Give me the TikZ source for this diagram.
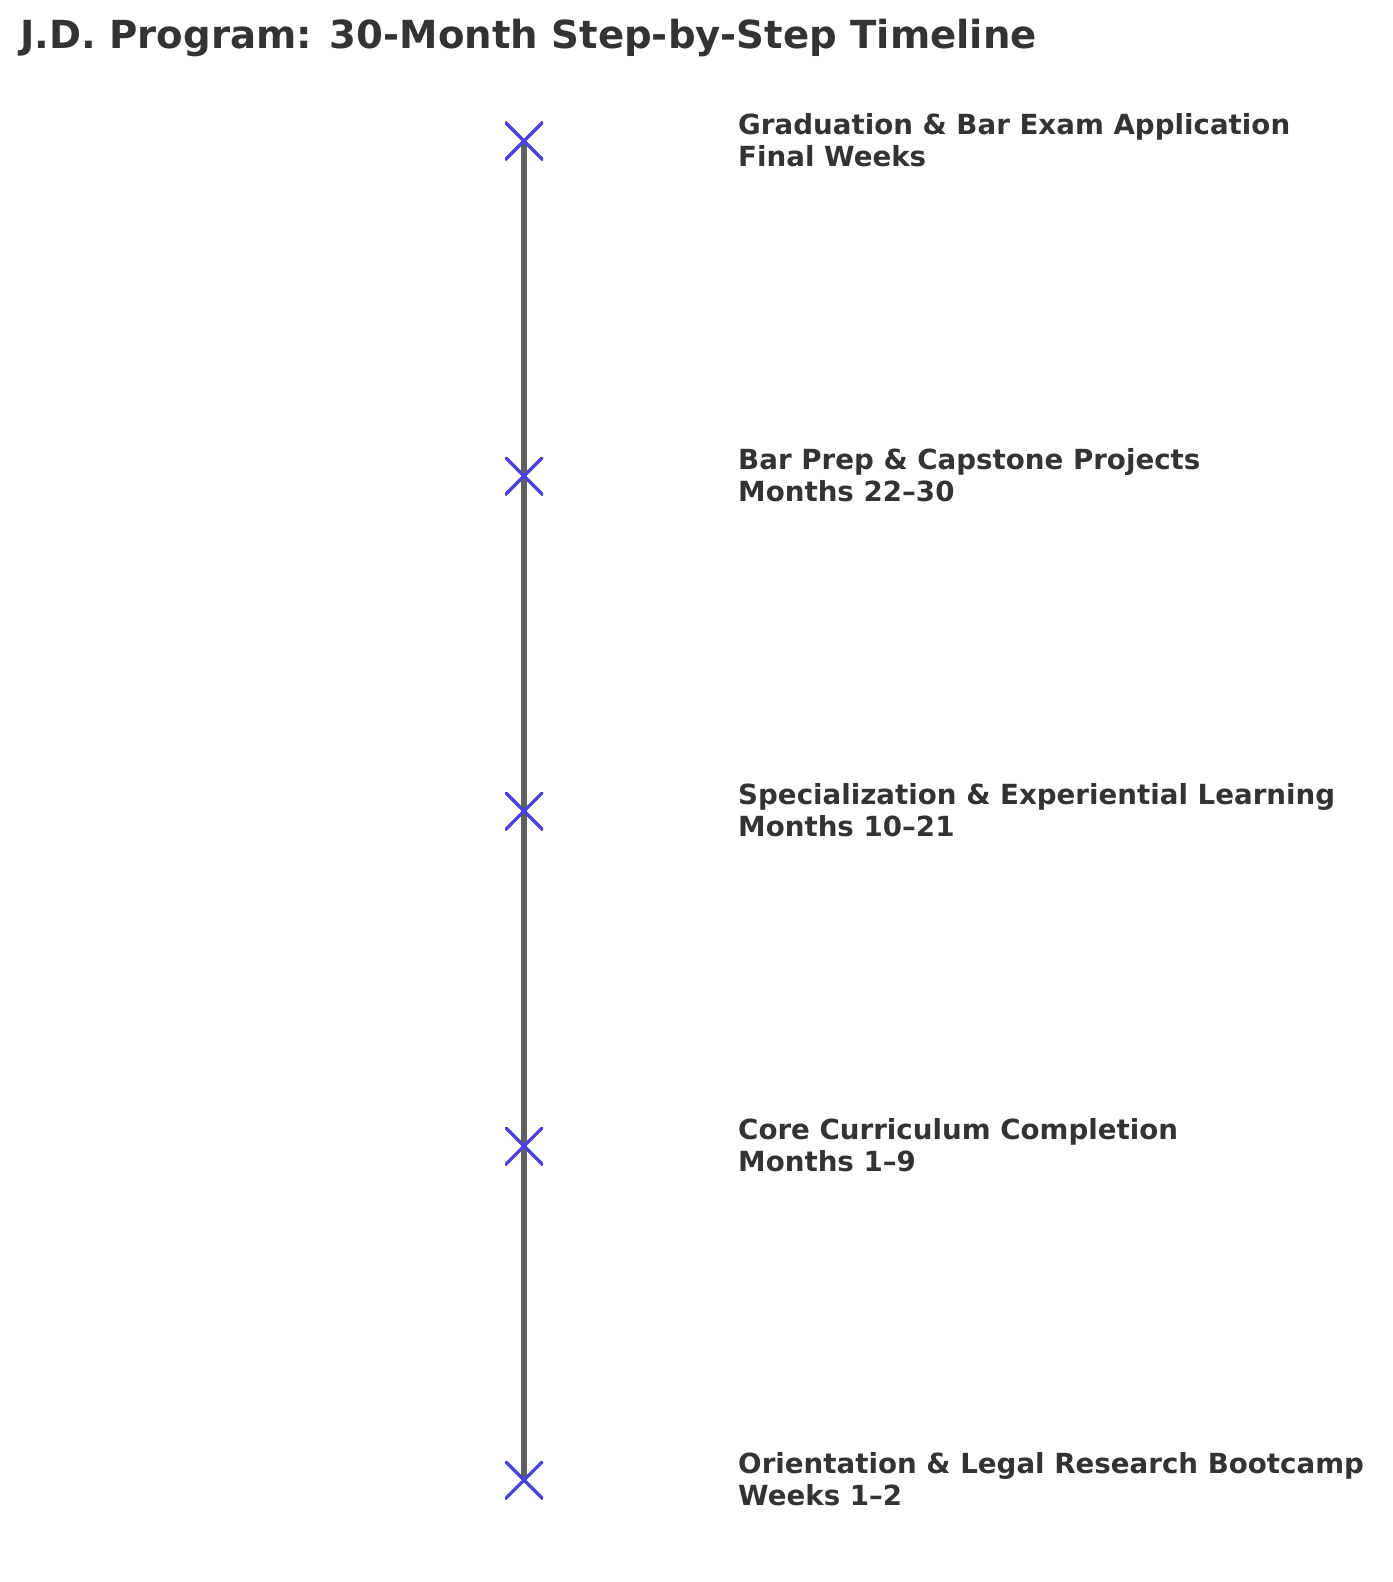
\documentclass[tikz,border=0pt]{standalone}
\usepackage{fontspec}
\setmainfont{DejaVu Sans}
\definecolor{txt}{HTML}{333333}
\definecolor{axis}{HTML}{606060}
\definecolor{mk}{HTML}{4B40E0}
\begin{document}
\begin{tikzpicture}[x=1bp,y=-1bp,
  lbl/.style={anchor=west,align=left,text=txt,font=\bfseries\fontsize{27.8}{32.5}\selectfont,inner sep=0},
  marker/.style={minimum size=38bp,inner sep=0,path picture={\draw[mk,line width=3.2bp] (path picture bounding box.south west)--(path picture bounding box.north east) (path picture bounding box.north west)--(path picture bounding box.south east);}}]
\useasboundingbox (0,0) rectangle (1393,1582);
\node[anchor=west,text=txt,font=\bfseries\fontsize{38.8}{44}\selectfont,inner sep=0] (title) at (20,38) {J.D. Program: 30-Month Step-by-Step Timeline};
\foreach \n/\y in {a/1480,b/1146,c/811,d/476,e/141}{\coordinate (p\n) at (524,\y);}
\draw[axis,line width=5.5bp] (pa)--(pe);
\foreach \n in {a,b,c,d,e}{\node[marker] (m\n) at (p\n) {};}
\node[lbl] (le) at (738,140) {Graduation \& Bar Exam Application\\Final Weeks};
\node[lbl] (ld) at (738,475) {Bar Prep \& Capstone Projects\\Months 22–30};
\node[lbl] (lc) at (738,810) {Specialization \& Experiential Learning\\Months 10–21};
\node[lbl] (lb) at (738,1145) {Core Curriculum Completion\\Months 1–9};
\node[lbl] (la) at (738,1479) {Orientation \& Legal Research Bootcamp\\Weeks 1–2};
\end{tikzpicture}
\end{document}
